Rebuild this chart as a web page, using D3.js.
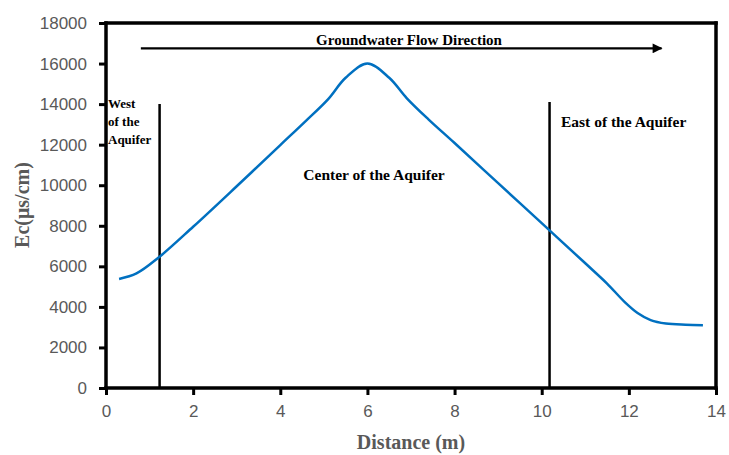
<!DOCTYPE html>
<html>
<head>
<meta charset="utf-8">
<script src="https://cdn.jsdelivr.net/npm/d3@7"></script>
<style>
  body { margin: 0; background: #fff; }
  svg { display: block; }
</style>
</head>
<body>
<div id="chart"></div>
<script>
// curve
var distance = [0.3, 0.7, 1.2, 2, 3, 4, 4.6, 5.1, 5.5, 6, 6.5, 6.9, 7.4, 8, 9, 10, 11, 11.5, 11.9, 12.2, 12.5, 12.85, 13.3, 13.7];
var ec = [5380, 5650, 6420, 7950, 9950, 11980, 13200, 14250, 15300, 16000, 15300, 14300, 13250, 12080, 10100, 8130, 6150, 5150, 4250, 3700, 3350, 3180, 3120, 3100];
var xTicks = [0, 2, 4, 6, 8, 10, 12, 14];
var yTicks = [0, 2000, 4000, 6000, 8000, 10000, 12000, 14000, 16000, 18000];
// zone boundaries: [x, top]
var westLine = [1.23, 14000];
var eastLine = [10.18, 14100];
var arrow = [0.8, 12.75, 16750];

var W = 729, H = 455;
var margin = {top: 23, right: 13, bottom: 67, left: 106};
var plotW = W - margin.left - margin.right,
    plotH = H - margin.top - margin.bottom;

var svg = d3.select("#chart").append("svg")
    .attr("width", W)
    .attr("height", H);
var g = svg.append("g")
    .attr("transform", "translate(" + margin.left + "," + margin.top + ")");

var x = d3.scaleLinear().domain([0, 14]).range([0, plotW]);
var y = d3.scaleLinear().domain([0, 18000]).range([plotH, 0]);

var tickFont = "'Liberation Sans', Arial, sans-serif";

var yAxis = g.append("g")
  .call(d3.axisLeft(y).tickValues(yTicks).tickFormat(d3.format("d"))
    .tickSize(7).tickSizeOuter(0).tickPadding(12));
var xAxis = g.append("g")
  .attr("transform", "translate(0," + plotH + ")")
  .call(d3.axisBottom(x).tickValues(xTicks).tickFormat(d3.format("d"))
    .tickSize(7).tickSizeOuter(0).tickPadding(10));

[xAxis, yAxis].forEach(function(a) {
  a.select(".domain").remove();
  a.selectAll(".tick line").attr("stroke", "#000").attr("stroke-width", 3);
  a.selectAll(".tick text")
    .attr("fill", "#595959")
    .style("font-family", tickFont)
    .style("font-size", "17px");
});

// vertical zone lines
[westLine, eastLine].forEach(function(d) {
  g.append("line")
    .attr("x1", x(d[0])).attr("x2", x(d[0]))
    .attr("y1", y(0)).attr("y2", y(d[1]))
    .attr("stroke", "#000").attr("stroke-width", 2.5);
});

// data line
var line = d3.line()
  .x(function(d, i) { return x(distance[i]); })
  .y(function(d) { return y(d); })
  .curve(d3.curveCatmullRom.alpha(0.5));

g.append("path")
  .datum(ec)
  .attr("d", line)
  .attr("fill", "none")
  .attr("stroke", "#0070C0")
  .attr("stroke-width", 2.5);

// flow arrow
svg.append("defs").append("marker")
  .attr("id", "head")
  .attr("viewBox", "0 0 10 10")
  .attr("refX", 9).attr("refY", 5)
  .attr("markerWidth", 5).attr("markerHeight", 4.5)
  .attr("markerUnits", "strokeWidth")
  .attr("orient", "auto")
  .append("path").attr("d", "M0,0L10,5L0,10Z").attr("fill", "#000");

g.append("line")
  .attr("x1", x(arrow[0])).attr("x2", x(arrow[1]))
  .attr("y1", y(arrow[2])).attr("y2", y(arrow[2]))
  .attr("stroke", "#000").attr("stroke-width", 2.2)
  .attr("marker-end", "url(#head)");

// box round the plot, drawn in page coordinates on its own layer
var bx0 = margin.left + x(0), bx1 = margin.left + x(14),
    by0 = margin.top + y(18000), by1 = margin.top + y(0);
svg.append("g").attr("class", "plot-box")
  .selectAll("line")
  .data([[bx0, by0, bx1, by0], [bx1, by0, bx1, by1], [bx0, by1, bx1, by1], [bx0, by0, bx0, by1]])
  .enter().append("line")
    .attr("x1", function(d) { return d[0]; })
    .attr("y1", function(d) { return d[1]; })
    .attr("x2", function(d) { return d[2]; })
    .attr("y2", function(d) { return d[3]; })
    .style("stroke", "black")
    .style("stroke-width", "3.5px")
    .style("stroke-linecap", "square");

var serif = "'Liberation Serif', 'Times New Roman', serif";

function label(txt, px, py, size, anchor) {
  return svg.append("text")
    .attr("x", px).attr("y", py)
    .attr("text-anchor", anchor || "middle")
    .style("font-family", serif)
    .style("font-weight", "bold")
    .style("font-size", size + "px")
    .text(txt);
}

label("Groundwater Flow Direction", 409, 45, 15);
label("Center of the Aquifer", 374, 180, 15.5);
label("East of the Aquifer", 561, 127, 15.5, "start");
label("West", 108, 108, 13, "start");
label("of the", 108, 126, 13, "start");
label("Aquifer", 108, 144, 13, "start");

// axis titles
label("Distance (m)", 411, 449, 20).attr("fill", "#595959");
label("Ec(μs/cm)", 0, 0, 20)
  .attr("fill", "#595959")
  .attr("transform", "translate(29,205) rotate(-90)");
</script>
</body>
</html>
